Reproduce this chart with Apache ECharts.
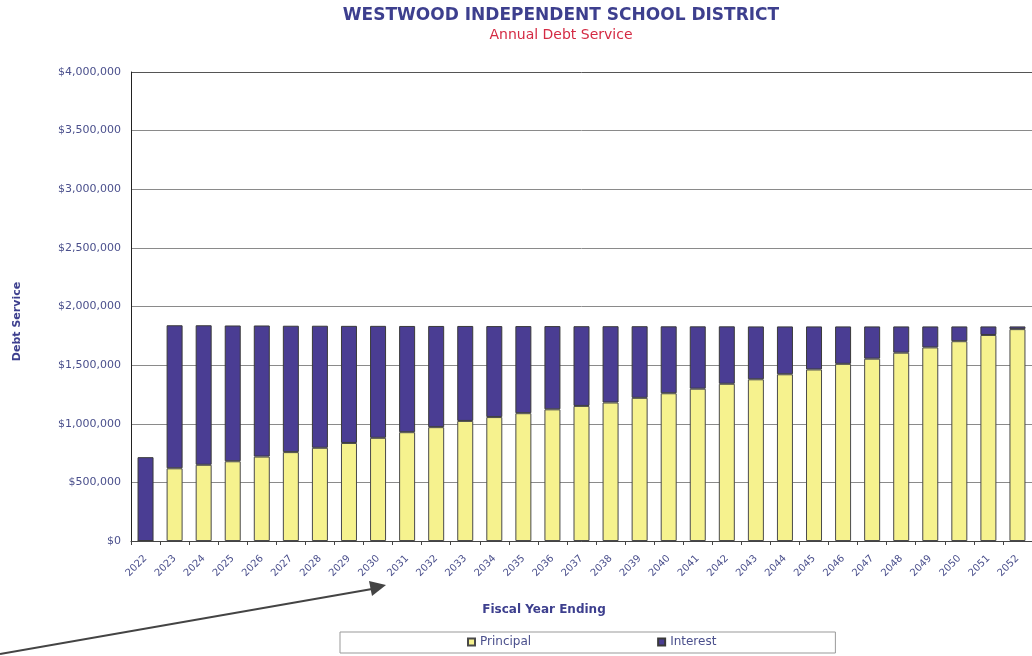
<!DOCTYPE html>
<html>
<head>
<meta charset="utf-8">
<title>Westwood ISD Annual Debt Service</title>
<script src="https://cdn.jsdelivr.net/npm/echarts@6/dist/echarts.min.js"></script>
<style>
  html, body { margin: 0; padding: 0; background: #fff; }
  #chart { width: 1032px; height: 656px; }
</style>
</head>
<body>
<div id="chart"></div>
<script>
// fiscal years and amounts (in dollars)
var years = ['2022', '2023', '2024', '2025', '2026', '2027', '2028', '2029', '2030', '2031',
    '2032', '2033', '2034', '2035', '2036', '2037', '2038', '2039', '2040', '2041',
    '2042', '2043', '2044', '2045', '2046', '2047', '2048', '2049', '2050', '2051', '2052'];

var principal = [0, 620000, 650000, 680000, 720000, 758000, 795000, 836000, 880000, 928000,
    971000, 1024000, 1057000, 1090000, 1123000, 1152000, 1181000, 1221000, 1260000, 1299000,
    1341000, 1379000, 1422000, 1463000, 1511000, 1555000, 1606000, 1651000, 1704000, 1757000, 1807000];

var interest = [715000, 1220000, 1190000, 1158000, 1118000, 1078000, 1041000, 999000, 955000, 906000,
    863000, 810000, 776000, 743000, 710000, 680000, 651000, 611000, 571000, 532000,
    490000, 451000, 408000, 367000, 319000, 275000, 224000, 179000, 126000, 73000, 23000];

var yTicks = [0, 500000, 1000000, 1500000, 2000000, 2500000, 3000000, 3500000, 4000000];

var navy = '#3d3f8e';
var labelNavy = '#4a4f8c';
var fmt = function (v) {
    return '$' + v.toString().replace(/\B(?=(\d{3})+(?!\d))/g, ',');
};

var chart = echarts.init(document.getElementById('chart'));

chart.setOption({
    backgroundColor: '#fff',
    animation: false,
    textStyle: { fontFamily: '"DejaVu Sans", sans-serif' },
    title: {
        text: 'WESTWOOD INDEPENDENT SCHOOL DISTRICT',
        subtext: 'Annual Debt Service',
        left: 556,
        textAlign: 'center',
        top: 2,
        itemGap: 4,
        textStyle: { color: navy, fontSize: 17, fontWeight: 'bold', fontFamily: '"DejaVu Sans"' },
        subtextStyle: { color: '#d42a43', fontSize: 14, fontFamily: '"DejaVu Sans"' }
    },
    legend: {
        data: ['Principal', 'Interest'],
        left: 340,
        top: 632,
        orient: 'horizontal',
        itemWidth: 7,
        itemHeight: 7,
        itemGap: 126,
        icon: 'rect',
        padding: [4, 119, 5, 127],
        borderColor: '#999',
        borderWidth: 1,
        textStyle: { color: labelNavy, fontSize: 12 }
    },
    grid: { left: 131, right: -8, top: 72, bottom: 115, containLabel: false },
    xAxis: {
        type: 'category',
        data: years,
        name: 'Fiscal Year Ending',
        nameLocation: 'middle',
        nameGap: 63,
        nameTextStyle: { color: navy, fontSize: 12, fontWeight: 'bold', padding: [0, 0, 0, -75] },
        axisLine: { lineStyle: { color: '#444', width: 1 } },
        axisTick: { show: true, alignWithLabel: false, length: 4, lineStyle: { color: '#444' } },
        axisLabel: { color: labelNavy, fontSize: 10, rotate: 45, margin: 16, interval: 0 }
    },
    yAxis: {
        type: 'value',
        min: 0,
        max: 4000000,
        interval: 500000,
        name: 'Debt Service',
        nameLocation: 'middle',
        nameGap: 108,
        nameRotate: 90,
        nameTextStyle: { color: navy, fontSize: 11, fontWeight: 'bold', padding: [0, 30, 0, 0] },
        axisLine: { show: true, lineStyle: { color: '#222', width: 1 } },
        axisTick: { show: false },
        splitLine: {
            lineStyle: {
                color: ['#8a8a8a', '#8a8a8a', '#8a8a8a', '#8a8a8a', '#8a8a8a',
                    '#8a8a8a', '#8a8a8a', '#8a8a8a', '#555'],
                width: 1
            }
        },
        axisLabel: {
            color: labelNavy, fontSize: 11, margin: 10,
            formatter: function (v) { return yTicks.indexOf(v) >= 0 ? fmt(v) : ''; }
        }
    },
    series: [
        {
            name: 'Principal',
            type: 'bar',
            stack: 'debt',
            data: principal,
            barWidth: 16,
            itemStyle: { color: '#f6f28e', borderColor: '#4a4a4a', borderWidth: 1 }
        },
        {
            name: 'Interest',
            type: 'bar',
            stack: 'debt',
            data: interest,
            barWidth: 16,
            itemStyle: { color: '#4a3d93', borderColor: '#3a3a3a', borderWidth: 1 }
        }
    ],
    graphic: [
        // hand-drawn pointer arrow on the scan
        {
            type: 'line',
            shape: { x1: 0, y1: 654, x2: 372, y2: 589 },
            style: { stroke: '#444', lineWidth: 2 }
        },
        {
            type: 'polygon',
            shape: { points: [[386, 585], [369, 581], [372, 596]] },
            style: { fill: '#444' }
        }
    ]
});
</script>
</body>
</html>
